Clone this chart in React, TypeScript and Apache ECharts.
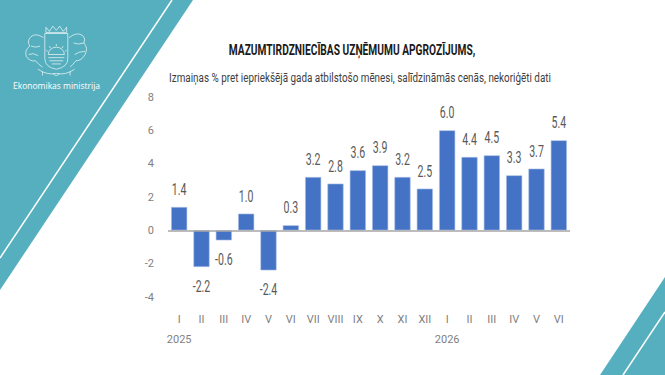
import React, { useEffect, useRef } from "react";
import * as echarts from "echarts";

// Month labels (Roman numerals) and the year shown under the first month of each year
const months = ["I", "II", "III", "IV", "V", "VI", "VII", "VIII", "IX", "X", "XI", "XII", "I", "II", "III", "IV", "V", "VI"];
const years = ["2025", "", "", "", "", "", "", "", "", "", "", "", "2026", "", "", "", "", ""];
// Year-on-year change, %
const changes = [1.4, -2.2, -0.6, 1.0, -2.4, 0.3, 3.2, 2.8, 3.6, 3.9, 3.2, 2.5, 6.0, 4.4, 4.5, 3.3, 3.7, 5.4];
const yTicks = { min: -4, max: 8, interval: 2 };

const titleText = "MAZUMTIRDZNIECĪBAS UZŅĒMUMU APGROZĪJUMS,";
const subtitleText = "Izmaiņas % pret iepriekšējā gada atbilstošo mēnesi, salīdzināmās cenās, nekoriģēti dati";
const ministryText = "Ekonomikas ministrija";

const TEAL = "#56afbe";
const AXIS_FONT = "Roboto, sans-serif";

// Simplified outline of the state coat of arms used in the corner emblem
const emblemPath =
  "M22 10 L22 34 Q22 42 32 44 Q42 42 42 34 L42 10 Z " +
  "M25 30 A7 7 0 0 1 39 30 Z M32 22 L32 20 M27 24 L26 22 M37 24 L38 22 M24.5 27 L23 26 M39.5 27 L41 26 " +
  "M25 33 L39 33 M26 36 L38 36 M28 39 L36 39 " +
  "M23 4 L26 8 L29 3 L32 7 L35 3 L38 8 L41 4 L41 9 L23 9 Z " +
  "M21 14 Q14 9 10 13 Q6 17 9 22 Q4 26 6 32 Q9 37 14 36 Q17 40 20 42 M10 22 Q14 24 18 22 M8 30 Q12 28 16 31 " +
  "M43 14 Q50 8 55 12 Q58 15 56 19 Q60 24 57 30 Q54 36 49 36 Q46 40 44 42 M56 19 Q51 21 47 19 M57 27 Q52 27 48 30 " +
  "M16 44 Q24 50 32 48 Q40 50 48 44 M20 46 L20 50 M44 46 L44 50 M29 48 Q32 52 35 48";

echarts.graphic.registerShape("emblemOutline", echarts.graphic.extendPath(emblemPath, {}) as any);

export default function App() {
  const ref = useRef<HTMLDivElement>(null);

  useEffect(() => {
    if (!ref.current) return;
    const chart = echarts.init(ref.current, null, { renderer: "svg" });
    const labels = months.map((m, i) => (years[i] ? m + "\n" + years[i] : m));

    chart.setOption({
      animation: false,
      backgroundColor: "#ffffff",
      graphic: [
        {
          type: "polygon",
          silent: true,
          shape: { points: [[0, 0], [193, 0], [0, 290]] },
          style: { fill: TEAL },
        },
        {
          type: "line",
          silent: true,
          shape: { x1: 172, y1: 0, x2: 0, y2: 258 },
          style: { stroke: "#ffffff", lineWidth: 1.5 },
        },
        {
          type: "polygon",
          silent: true,
          shape: { points: [[600, 375], [665, 277], [665, 375]] },
          style: { fill: TEAL },
        },
        {
          type: "line",
          silent: true,
          shape: { x1: 623, y1: 375, x2: 665, y2: 312 },
          style: { stroke: "#ffffff", lineWidth: 1.5 },
        },
        {
          type: "emblemOutline",
          silent: true,
          x: 19.5,
          y: 23,
          scaleX: 1.15,
          scaleY: 1.05,
          style: { fill: "none", stroke: "rgba(255,255,255,0.85)", lineWidth: 0.7 },
        },
        {
          type: "text",
          silent: true,
          x: 56.5,
          y: 85,
          style: {
            text: ministryText,
            fill: "#ffffff",
            font: "400 8.5px 'Open Sans', sans-serif",
            textAlign: "center",
            textVerticalAlign: "middle",
          },
        },
        {
          type: "text",
          silent: true,
          x: 352,
          y: 50,
          scaleX: 0.68,
          style: {
            text: titleText,
            fill: "#1a1a1a",
            font: "bold 15px Roboto, sans-serif",
            textAlign: "center",
            textVerticalAlign: "middle",
          },
        },
        {
          type: "text",
          silent: true,
          x: 360,
          y: 77,
          scaleX: 0.76,
          style: {
            text: subtitleText,
            fill: "#404040",
            font: "400 13px Roboto, sans-serif",
            textAlign: "center",
            textVerticalAlign: "middle",
          },
        },
      ],
      grid: { left: 168, right: 95, top: 97, bottom: 78, containLabel: false },
      xAxis: {
        type: "category",
        data: labels,
        position: "bottom",
        axisLine: { show: false, onZero: false },
        axisTick: { show: false },
        axisLabel: {
          color: "#7f7f7f",
          fontFamily: AXIS_FONT,
          fontSize: 11,
          margin: 12,
          lineHeight: 20,
          verticalAlign: "top",
          interval: 0,
        },
      },
      yAxis: {
        type: "value",
        min: yTicks.min,
        max: yTicks.max,
        interval: yTicks.interval,
        axisLine: { show: false },
        axisTick: { show: false },
        splitLine: { show: false },
        axisLabel: { color: "#7f7f7f", fontFamily: AXIS_FONT, fontSize: 11, margin: 14 },
      },
      series: [
        {
          type: "bar",
          data: changes,
          barWidth: "72%",
          itemStyle: { color: "#4472c4", borderColor: "#a9c0e8", borderWidth: 0.6 },
          markLine: {
            silent: true,
            symbol: "none",
            label: { show: false },
            lineStyle: { color: "#a6a6a6", width: 1.5, type: "solid" },
            data: [{ yAxis: 0 }],
          },
        },
        {
          // Value labels in a condensed face, placed above/below each bar end
          type: "custom",
          silent: true,
          data: changes.map((v, i) => [i, v]),
          renderItem: (_params: any, api: any) => {
            const i = api.value(0);
            const v = api.value(1);
            const pt = api.coord([i, v]);
            const y = v < 0 ? pt[1] + 19 : pt[1] - 18;
            return {
              type: "text",
              x: pt[0],
              y,
              scaleX: 0.66,
              style: {
                text: v.toFixed(1),
                fill: "#595959",
                font: "400 16px Roboto, sans-serif",
                textAlign: "center",
                textVerticalAlign: "middle",
              },
            };
          },
        },
      ],
    });

    return () => chart.dispose();
  }, []);

  return <div ref={ref} style={{ width: 665, height: 375, position: "absolute", left: 0, top: 0 }} />;
}
